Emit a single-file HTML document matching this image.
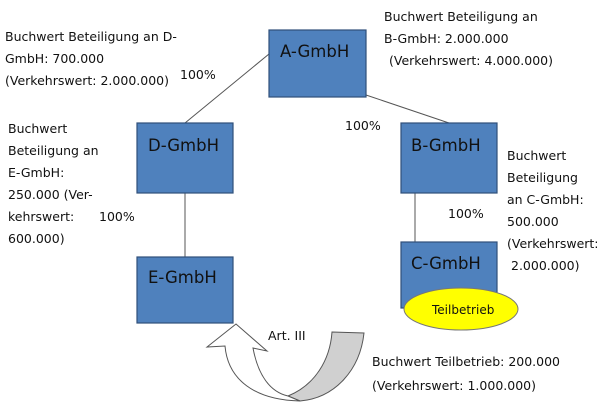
<!DOCTYPE html>
<html><head><style>
body{margin:0;background:#fff;}
svg text{font-family:"DejaVu Sans","Liberation Sans",sans-serif;font-size:12.5px;fill:#111;}
.b{font-size:16.5px;}
</style></head><body>
<svg width="605" height="408" viewBox="0 0 605 408" xmlns="http://www.w3.org/2000/svg">
<g stroke="#555" stroke-width="1" fill="none">
<line x1="185" y1="123" x2="269" y2="54"/>
<line x1="366" y1="95" x2="449" y2="123"/>
<line x1="185" y1="193" x2="185" y2="257"/>
<line x1="415" y1="193" x2="415" y2="242"/>
</g>
<g fill="#4f81bd" stroke="#2f4f7a" stroke-width="1.2">
<rect x="269" y="30" width="97" height="67"/>
<rect x="137" y="123" width="96" height="70"/>
<rect x="401" y="123" width="96" height="70"/>
<rect x="137" y="257" width="96" height="66"/>
<rect x="401" y="242" width="96" height="66"/>
</g>
<ellipse cx="461" cy="309" rx="57" ry="21" fill="#ffff00" stroke="#777"/>
<text x="432" y="314" style="font-size:12px">Teilbetrieb</text>
<text class="b" x="280" y="57">A-GmbH</text>
<text class="b" x="148" y="151">D-GmbH</text>
<text class="b" x="411" y="151">B-GmbH</text>
<text class="b" x="148" y="283">E-GmbH</text>
<text class="b" x="411" y="269">C-GmbH</text>
<!-- arrow -->
<path d="M332,332 L364,333 C360,370 335,398 300,401 L288,396 C315,385 330,360 332,332 Z" fill="#d0d0d0" stroke="#555"/>
<path d="M300,401 C255,400 228,380 225,346 L207,347 L236,324 L267,351 L253,348 C258,375 270,392 288,396 Z" fill="#fff" stroke="#555"/>
<text x="268" y="340">Art. III</text>
<text x="5" y="41">Buchwert Beteiligung an D-</text>
<text x="5" y="63">GmbH: 700.000</text>
<text x="5" y="85">(Verkehrswert: 2.000.000)</text>
<text x="180" y="79">100%</text>
<text x="384" y="21">Buchwert Beteiligung an</text>
<text x="384" y="43">B-GmbH: 2.000.000</text>
<text x="389" y="65">(Verkehrswert: 4.000.000)</text>
<text x="345" y="130">100%</text>
<text x="8" y="133">Buchwert</text>
<text x="8" y="155">Beteiligung an</text>
<text x="8" y="177">E-GmbH:</text>
<text x="8" y="199">250.000 (Ver-</text>
<text x="8" y="221">kehrswert:</text>
<text x="8" y="243">600.000)</text>
<text x="99" y="221">100%</text>
<text x="507" y="160">Buchwert</text>
<text x="507" y="182">Beteiligung</text>
<text x="507" y="204">an  C-GmbH:</text>
<text x="507" y="226">500.000</text>
<text x="507" y="248">(Verkehrswert:</text>
<text x="511" y="270">2.000.000)</text>
<text x="448" y="218">100%</text>
<text x="372" y="366">Buchwert Teilbetrieb: 200.000</text>
<text x="372" y="390">(Verkehrswert: 1.000.000)</text>
</svg>
</body></html>
